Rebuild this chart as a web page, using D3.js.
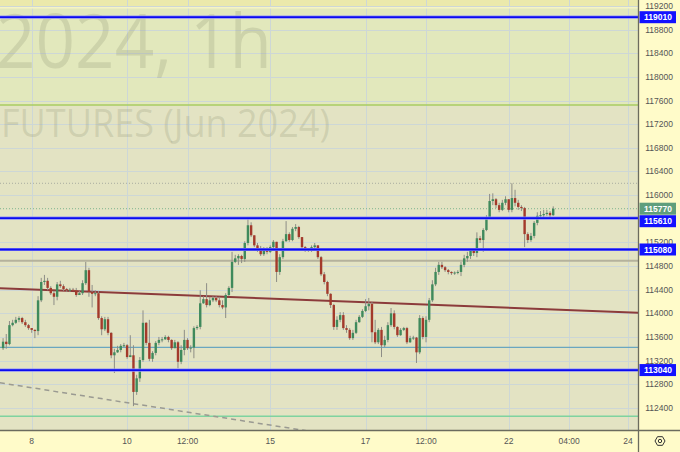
<!DOCTYPE html>
<html><head><meta charset="utf-8">
<script src="https://cdn.jsdelivr.net/npm/d3@7"></script>
<style>html,body{margin:0;padding:0;background:#fffbc9;} svg{display:block}</style>
</head><body><svg id="c" width="680" height="452"></svg>
<script>
// ---------------- data ----------------
const firstOpen = 113410;
const closes = [
113520,113480,113800,113840,113890,113920,113850,113800,113750,113720,
113700,114220,114530,114550,114430,114340,114280,114490,114460,114410,
114390,114400,114390,114310,114340,114510,114730,114360,114330,114340,
113920,113730,113900,113670,113290,113340,113380,113450,113460,113260,
113290,112670,112900,113210,113840,113500,113230,113330,113500,113550,
113560,113600,113550,113410,113510,113180,113380,113550,113410,113420,
113750,113770,114170,114240,114140,114220,114260,114220,114140,114100,
114310,114430,114870,114930,114970,114920,115190,115490,115320,115150,
115100,115000,115090,115040,115120,115210,114700,114950,115220,115340,
115240,115430,115460,115290,115120,115070,115080,115120,115150,114950,
114660,114530,114330,114140,113770,113890,113970,113750,113720,113580,
113670,113850,113940,114040,114120,114160,113680,113510,113720,113460,
113550,113800,114000,113770,113630,113720,113750,113510,113580,113590,
113340,113920,113600,113890,114220,114490,114700,114820,114780,114730,
114700,114680,114690,114700,114820,114930,114970,115070,115020,115270,
115240,115410,115610,115900,115930,115830,115750,115870,115930,115750,
115950,115870,115800,115780,115340,115240,115310,115530,115650,115660,
115680,115700,115660,115770];
const highs = [
113580,113650,113870,113890,113940,113950,113940,113890,113820,113750,
113730,114290,114600,114650,114600,114460,114380,114530,114550,114490,
114430,114430,114430,114430,114380,114560,114870,114770,114480,114390,
114380,113950,113940,113940,113680,113400,113450,113480,113500,113480,
113630,113460,112960,113260,114050,113850,113890,113360,113530,113600,
113600,113630,113620,113560,113550,113530,113460,113720,113580,113460,
113780,113800,114390,114290,114510,114280,114290,114290,114280,114220,
114340,114460,115040,114990,115000,114990,115220,115600,115540,115310,
115190,115140,115120,115120,115150,115240,115210,115000,115260,115560,
115370,115460,115510,115480,115290,115140,115100,115150,115190,115150,
114970,114700,114550,114340,114160,113950,114020,114020,113800,113750,
113720,113890,113970,114070,114240,114260,114190,113890,113750,113770,
113620,113850,114090,114050,113780,113750,113770,113770,113620,113620,
113600,113970,113950,113950,114260,114560,114770,114870,114870,114800,
114750,114710,114710,114730,114870,114990,115040,115100,115090,115370,
115310,115440,115660,116020,116030,115950,115870,115920,115980,115930,
116200,116090,115920,115830,115800,115370,115360,115560,115710,115730,
115750,115750,115730,115810];
const lows = [
113380,113400,113460,113780,113820,113850,113820,113770,113720,113670,
113580,113630,114190,114480,114390,114310,114140,114220,114430,114380,
114360,114360,114380,114280,114310,114310,114480,114280,114100,114290,
113890,113630,113700,113630,113240,112990,113330,113340,113430,113230,
113260,112430,112620,112840,113180,113460,113190,113180,113290,113460,
113510,113550,113510,113380,113410,113070,113140,113290,113380,113340,
113240,113720,113730,114160,114100,114120,114190,114190,114100,114070,
113920,114290,114360,114850,114820,114850,114870,115150,115290,115120,
115040,114970,114970,115000,115020,115090,114530,114650,114920,115210,
115210,115220,115390,115260,115090,115040,115040,115040,115090,114920,
114630,114490,114290,114090,113720,113720,113850,113720,113670,113550,
113550,113650,113840,113920,114020,114050,113510,113480,113480,113260,
113430,113510,113770,113730,113600,113620,113700,113480,113500,113550,
113160,113310,113560,113510,113850,114190,114460,114650,114750,114700,
114660,114650,114650,114660,114630,114780,114870,114920,114970,114950,
115190,115040,115390,115600,115830,115780,115710,115730,115830,115710,
115710,115810,115750,115730,115120,115190,115210,115270,115490,115600,
115630,115650,115630,115650];

const blueLevels = [119010, 115610, 115080, 113040];
const lastPrice = 115770;
const grayLevel = 114890;
const tealLevel = 113425;
const greenLevel = 112260;
const zoneLevel = 117525;
const topZoneLevel = 119170;
const dottedLevel = 116200;
const trendLine = [[-1, 114425], [200, 114010]];
const dashLine = [[-1, 112825], [110, 111890]];
const priceTicks = [112400,112800,113200,113600,114000,114400,114800,115200,115600,116000,116400,116800,117200,117600,118000,118400,118800,119200];
const timeTickIdx = [9, 39, 58, 84, 114, 133, 159, 178, 196.5];
const timeTickLabels = ["8","10","12:00","15","17","12:00","22","04:00","24"];
const watermark1 = "2024, 1h";
const watermark2 = "FUTURES (Jun 2024)";

// ---------------- layout ----------------
const W = 680, H = 452, PR = 638, PB = 430;
const svg = d3.select("#c");
const x = d3.scaleLinear().domain([-0.97, 199.66]).range([0, PR]);
const y = d3.scaleLinear().domain([112026, 119301]).range([PB, 0]);
const font = "'Liberation Sans', Arial, sans-serif";

const opens = closes.map((c, i) => i === 0 ? firstOpen : closes[i - 1]);
const bars = closes.map((c, i) => ({i, o: opens[i], h: highs[i], l: lows[i], c}));

// backgrounds
svg.append("rect").attr("x",0).attr("y",0).attr("width",W).attr("height",H).attr("fill","#fffbc9");
svg.append("defs").append("clipPath").attr("id","plot").append("rect")
  .attr("x",0).attr("y",0).attr("width",PR).attr("height",PB);
const plot = svg.append("g").attr("clip-path","url(#plot)");
plot.append("rect").attr("x",0).attr("y",0).attr("width",PR).attr("height",PB).attr("fill","#e3e3c3");
plot.append("rect").attr("x",0).attr("y",y(topZoneLevel)).attr("width",PR)
  .attr("height",y(zoneLevel)-y(topZoneLevel)).attr("fill","#e2e8bc");
plot.append("rect").attr("x",0).attr("y",0).attr("width",PR).attr("height",y(topZoneLevel)).attr("fill","#ebe9ab");

// grid
plot.append("g").selectAll("line").data(priceTicks).join("line")
  .attr("x1",0).attr("x2",PR).attr("y1",d=>Math.round(y(d))+0.5).attr("y2",d=>Math.round(y(d))+0.5)
  .attr("stroke","#cdd7d6").attr("stroke-width",1);
plot.append("g").selectAll("line").data(timeTickIdx).join("line")
  .attr("y1",0).attr("y2",PB).attr("x1",d=>Math.round(x(d))+0.5).attr("x2",d=>Math.round(x(d))+0.5)
  .attr("stroke","#cdd7d6").attr("stroke-width",1);

// watermark
plot.append("text").text(watermark1).attr("x",-4).attr("y",68)
  .attr("textLength",276).attr("lengthAdjust","spacingAndGlyphs")
  .attr("font-family","'Open Sans', sans-serif").attr("font-size",75)
  .attr("fill","#8a8f70").attr("fill-opacity",0.23);
plot.append("text").text(watermark2).attr("x",1).attr("y",137)
  .attr("textLength",329).attr("lengthAdjust","spacingAndGlyphs")
  .attr("font-family","'Open Sans', sans-serif").attr("font-size",38)
  .attr("fill","#8a8f70").attr("fill-opacity",0.23);

// horizontal lines
function hline(v, color, w, dash) {
  const l = plot.append("line").attr("x1",0).attr("x2",PR).attr("y1",y(v)).attr("y2",y(v))
    .attr("stroke",color).attr("stroke-width",w);
  if (dash) l.attr("stroke-dasharray",dash);
  return l;
}
hline(zoneLevel, "#a9cc62", 1.5);
hline(topZoneLevel, "#f6f4c4", 1.5);
hline(grayLevel, "#b5b29c", 2);
hline(tealLevel, "#6aa6c0", 1.2);
hline(greenLevel, "#7fd3a0", 1.5);
hline(dottedLevel, "#a9ada0", 1, "1,2");
hline(lastPrice, "#7fb58f", 1, "1,2");

const line = d3.line().x(d=>x(d[0])).y(d=>y(d[1]));
plot.append("path").attr("d",line(trendLine)).attr("fill","none").attr("stroke","#8c3b3b").attr("stroke-width",2);
plot.append("path").attr("d",line(dashLine)).attr("fill","none").attr("stroke","#9a9a92")
  .attr("stroke-width",1.5).attr("stroke-dasharray","5,4");

// candles
const bw = 2.4;
const cg = plot.append("g");
cg.selectAll("line").data(bars).join("line")
  .attr("x1",d=>x(d.i)).attr("x2",d=>x(d.i))
  .attr("y1",d=>y(Math.max(d.h,d.o,d.c))).attr("y2",d=>y(Math.min(d.l,d.o,d.c)))
  .attr("stroke","#8d8d86").attr("stroke-width",1);
cg.selectAll("rect").data(bars).join("rect")
  .attr("x",d=>x(d.i)-bw/2).attr("width",bw)
  .attr("y",d=>y(Math.max(d.o,d.c)))
  .attr("height",d=>Math.max(1, Math.abs(y(d.o)-y(d.c))))
  .attr("fill",d=>d.c>=d.o ? "#3f8a5c" : "#a33a2b");

// blue levels on top
blueLevels.forEach(v => {
  hline(v, "#8f8ff6", 3.2);
  hline(v, "#0b0bf0", 1.8);
});

// axes backgrounds & borders
svg.append("rect").attr("x",PR+1).attr("y",0).attr("width",W-PR-1).attr("height",H).attr("fill","#fffbc9");
svg.append("rect").attr("x",0).attr("y",PB+1).attr("width",W).attr("height",H-PB-1).attr("fill","#fffbc9");
svg.append("line").attr("x1",PR+0.5).attr("x2",PR+0.5).attr("y1",0).attr("y2",H).attr("stroke","#6b6b5e").attr("stroke-width",1.3);
svg.append("line").attr("x1",0).attr("x2",W).attr("y1",PB+0.5).attr("y2",PB+0.5).attr("stroke","#6b6b5e").attr("stroke-width",1.3);

// price label boxes with collision avoidance
const boxes = blueLevels.map(v=>({v, c:"#1212ff"})).concat([{v:lastPrice, c:"#5f9e7c"}])
  .map(b=>({...b, yy:y(b.v)})).sort((a,b)=>a.yy-b.yy);
const bh = 12;
for (let k=1;k<boxes.length;k++) {
  if (boxes[k].yy - boxes[k-1].yy < bh+0.5) boxes[k].yy = boxes[k-1].yy + bh + 0.5;
}

// right axis labels (skip labels fully hidden behind a price box)
const visibleTicks = priceTicks.filter(t => !boxes.some(b => Math.abs(b.yy - y(t)) < 5));
svg.append("g").selectAll("text").data(visibleTicks).join("text")
  .attr("x",659).attr("y",d=>y(d)).attr("dy","0.35em").attr("text-anchor","middle")
  .attr("font-family",font).attr("font-size",8.5).attr("fill","#555")
  .text(d=>d);

// bottom axis labels
svg.append("g").selectAll("text").data(timeTickIdx).join("text")
  .attr("x",d=>x(d)).attr("y",441.5).attr("dy","0.35em").attr("text-anchor","middle")
  .attr("font-family",font).attr("font-size",8.5).attr("fill","#555")
  .text((d,i)=>timeTickLabels[i]);

const bg = svg.append("g");
boxes.forEach(b => {
  bg.append("rect").attr("x",639.5).attr("y",b.yy-bh/2).attr("width",36.5).attr("height",bh).attr("fill",b.c);
  bg.append("text").attr("x",658).attr("y",b.yy).attr("dy","0.36em").attr("text-anchor","middle")
    .attr("font-family",font).attr("font-size",8.5).attr("font-weight","bold").attr("fill","#fff").text(b.v);
});

// gear icon
const gx = 660, gy = 441, gr = 5;
const hex = d3.range(6).map(k => [gx + gr*Math.cos(Math.PI/3*k), gy + gr*Math.sin(Math.PI/3*k)]);
svg.append("path").attr("d","M"+hex.map(p=>p.join(",")).join("L")+"Z")
  .attr("fill","none").attr("stroke","#333").attr("stroke-width",1);
svg.append("circle").attr("cx",gx).attr("cy",gy).attr("r",1.7).attr("fill","none").attr("stroke","#333").attr("stroke-width",1);
</script></body></html>
